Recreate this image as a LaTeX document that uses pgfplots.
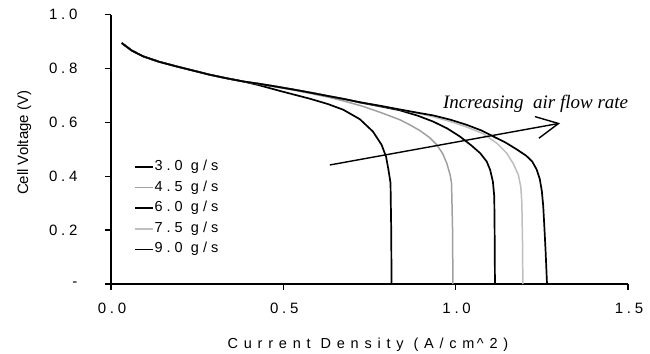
\documentclass[border=0pt]{standalone}
\usepackage{fontspec}
\setmainfont{Liberation Sans}
\newfontfamily\tickfont[LetterSpace=25]{Liberation Sans}
\newfontfamily\legfont[LetterSpace=28]{Liberation Sans}
\newfontfamily\xlabfont[LetterSpace=40]{Liberation Sans}
\newfontfamily\annotfont{Liberation Serif}
\usepackage{pgfplots}
\pgfplotsset{compat=1.18}
\usetikzlibrary{arrows.meta}
\definecolor{grA}{RGB}{160,160,160}
\definecolor{grB}{RGB}{190,190,190}
\begin{document}
\begin{tikzpicture}
\useasboundingbox (0,0) rectangle (650bp,354bp);
\begin{axis}[
  at={(111bp,70bp)}, anchor=south west,
  scale only axis, width=517bp, height=269.3bp,
  xmin=0, xmax=1.5, ymin=0, ymax=1,
  axis x line=bottom, axis y line=left,
  axis line style={-, line width=1.5bp, black},
  tick align=outside, major tick length=6bp,
  every tick/.style={black, line width=1.3bp},
  xtick={0,0.5,1,1.5}, xticklabels={0.0,0.5,1.0,1.5},
  ytick={0,0.2,0.4,0.6,0.8,1.0},
  yticklabels={{-\hspace{20bp}},0.2,0.4,0.6,0.8,1.0},
  xticklabel style={font=\fontsize{15bp}{17bp}\tickfont, yshift=-10bp, xshift=1bp},
  yticklabel style={font=\fontsize{15bp}{17bp}\tickfont, xshift=-24bp},
  xlabel={Current Density (A/cm\,\textasciicircum2)},
  ylabel={Cell Voltage (V)},
  xlabel style={font=\fontsize{14.5bp}{16bp}\xlabfont, at={(axis description cs:0.497,-0.226)}, anchor=center},
  ylabel style={font=\fontsize{15bp}{17bp}\selectfont, at={(axis description cs:-0.168,0.524)}, anchor=center},
  clip=false,
  legend style={draw=none, fill=none, at={(axis description cs:0.044,0.463)}, anchor=north west,
    font=\fontsize{14.5bp}{16bp}\legfont, row sep=5.6bp, inner sep=0pt,
    nodes={text height=10bp, text depth=3bp, inner sep=1bp}},
  legend cell align=left,
  legend image code/.code={\draw[#1, line width=1.6bp] (0bp,0bp) -- (18bp,0bp);},
]
% 3.0 g/s
\addplot[black, line width=1.7bp] coordinates {
(0.031,0.895)(0.06,0.867)(0.094,0.845)(0.14,0.825)(0.19,0.808)(0.24,0.792)
(0.287,0.777)(0.335,0.764)(0.384,0.752)(0.43,0.738)(0.49,0.717)(0.577,0.688)
(0.63,0.668)(0.674,0.647)(0.722,0.612)(0.760,0.566)(0.785,0.517)(0.798,0.473)
(0.805,0.424)(0.811,0.375)(0.813,0.2)(0.814,0)};
\addlegendentry{3.0  g/s}
% 4.5 g/s
\addplot[grA, line width=1.5bp] coordinates {
(0.031,0.895)(0.06,0.867)(0.094,0.845)(0.14,0.825)(0.19,0.808)(0.24,0.792)
(0.287,0.777)(0.335,0.764)(0.384,0.752)(0.432,0.742)(0.48,0.731)(0.53,0.720)
(0.577,0.708)(0.63,0.694)(0.68,0.678)(0.73,0.660)(0.78,0.638)(0.838,0.610)
(0.867,0.591)(0.896,0.570)(0.925,0.543)(0.945,0.517)(0.962,0.485)(0.974,0.449)
(0.984,0.405)(0.988,0.374)(0.991,0.2)(0.992,0)};
\addlegendentry{4.5  g/s}
% 6.0 g/s
\addplot[black, line width=1.7bp] coordinates {
(0.031,0.895)(0.06,0.867)(0.094,0.845)(0.14,0.825)(0.19,0.808)(0.24,0.792)
(0.287,0.777)(0.335,0.764)(0.384,0.752)(0.432,0.743)(0.48,0.733)(0.53,0.722)
(0.577,0.711)(0.63,0.698)(0.68,0.686)(0.722,0.674)(0.78,0.660)(0.838,0.645)
(0.89,0.625)(0.935,0.603)(0.975,0.578)(1.012,0.548)(1.045,0.515)(1.071,0.486)
(1.090,0.455)(1.100,0.424)(1.108,0.38)(1.112,0.325)(1.113,0.2)(1.114,0)};
\addlegendentry{6.0  g/s}
% 7.5 g/s
\addplot[grB, line width=1.5bp] coordinates {
(0.031,0.895)(0.06,0.867)(0.094,0.845)(0.14,0.825)(0.19,0.808)(0.24,0.792)
(0.287,0.777)(0.335,0.764)(0.384,0.752)(0.432,0.743)(0.48,0.733)(0.53,0.722)
(0.577,0.711)(0.63,0.698)(0.68,0.686)(0.722,0.675)(0.78,0.662)(0.838,0.648)
(0.89,0.634)(0.935,0.621)(0.983,0.604)(1.03,0.584)(1.08,0.558)(1.12,0.522)
(1.148,0.486)(1.168,0.445)(1.182,0.405)(1.189,0.36)(1.192,0.3)(1.194,0.15)(1.195,0)};
\addlegendentry{7.5  g/s}
% 9.0 g/s
\addplot[black, line width=1.7bp] coordinates {
(0.031,0.895)(0.06,0.867)(0.094,0.845)(0.14,0.825)(0.19,0.808)(0.24,0.792)
(0.287,0.777)(0.335,0.764)(0.384,0.752)(0.432,0.743)(0.48,0.733)(0.53,0.722)
(0.577,0.711)(0.63,0.698)(0.68,0.686)(0.722,0.675)(0.78,0.662)(0.838,0.648)
(0.89,0.636)(0.935,0.626)(0.985,0.610)(1.032,0.591)(1.075,0.570)(1.109,0.548)
(1.145,0.525)(1.177,0.500)(1.205,0.476)(1.222,0.455)(1.235,0.425)(1.244,0.39)
(1.250,0.345)(1.254,0.29)(1.257,0.22)(1.261,0.12)(1.265,0)};
\addlegendentry{9.0  g/s}
% arrow
\addplot[black, line width=1.4bp, -{Straight Barb[length=22bp,width=22bp,line width=1.4bp]}, forget plot]
  coordinates {(0.635,0.442)(1.303,0.597)};
\node[anchor=base west, inner sep=0pt, font=\fontsize{19bp}{21bp}\annotfont\itshape]
  at (axis cs:0.963,0.651) {Increasing\ \ air flow rate};
\end{axis}
\end{tikzpicture}
\end{document}
